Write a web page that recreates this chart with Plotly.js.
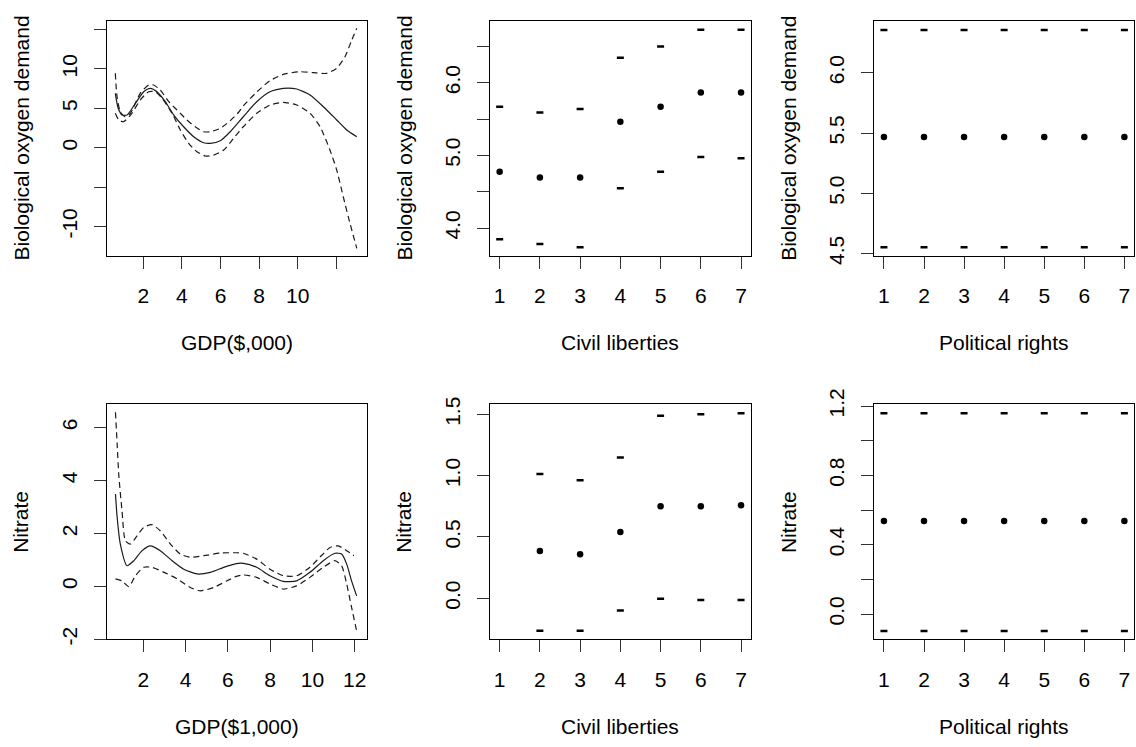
<!DOCTYPE html>
<html>
<head>
<meta charset="utf-8">
<script src="https://cdn.plot.ly/plotly-3.0.1.min.js"></script>
<style>html,body{margin:0;padding:0;background:#fff;}#chart{width:1136px;height:747px;}</style>
</head>
<body>
<div id="chart"></div>
<script>
// ---- Biological oxygen demand vs GDP($,000) ----
var bodGdpUpperX = [0.55,0.64,0.81,1.07,1.33,1.84,2.28,2.54,2.88,3.32,3.75,4.26,4.69,5.13,5.47,5.99,6.49,6.94,7.18,7.88,8.56,9.25,10.12,10.81,11.5,12.02,12.45,12.8,13.06];
var bodGdpUpperY = [9.44,6.47,4.57,3.93,4.37,6.9,7.96,7.96,7.32,5.84,4.78,3.52,2.66,2.03,2.03,2.46,3.4,4.5,5.3,7.07,8.5,9.3,9.64,9.52,9.44,10.08,11.55,13.67,15.15];
var bodGdpFitX = [0.55,0.7,0.9,1.16,1.59,2.02,2.36,2.71,3.14,3.58,4.09,4.61,5.13,5.47,5.99,6.49,7.18,7.88,8.56,9.25,9.95,10.64,11.33,12.02,12.54,13.06];
var bodGdpFitY = [6.9,5.0,4.15,4.15,5.63,7.1,7.54,7.1,5.84,4.15,2.66,1.4,0.63,0.56,0.89,2.0,3.93,5.84,7.1,7.54,7.45,6.69,5.2,3.52,2.25,1.4];
var bodGdpLowerX = [0.55,0.73,0.98,1.41,1.84,2.28,2.62,2.97,3.49,3.92,4.35,4.78,5.21,5.65,6.17,6.49,6.68,7.18,7.88,8.56,9.25,9.95,10.64,11.16,11.67,12.02,12.36,12.71,13.06];
var bodGdpLowerY = [4.37,3.52,3.3,4.37,6.05,7.1,7.1,6.27,4.37,2.25,0.56,-0.51,-1.05,-0.93,-0.29,0.6,1.2,2.66,4.37,5.42,5.76,5.42,4.37,2.66,-0.29,-2.83,-6.22,-9.6,-12.77];

// ---- Nitrate vs GDP($1,000) ----
var nitGdpUpperX = [0.68,0.76,0.84,0.99,1.15,1.39,1.7,2.02,2.41,2.8,3.28,3.75,4.22,4.86,5.64,6.4,6.73,7.36,7.99,8.62,9.25,9.88,10.35,10.83,11.22,11.62,11.96];
var nitGdpUpperY = [6.58,5.38,4.18,2.86,1.72,1.6,1.91,2.23,2.33,2.1,1.6,1.22,1.1,1.16,1.26,1.27,1.25,1.03,0.65,0.4,0.4,0.72,1.1,1.47,1.53,1.35,1.16];
var nitGdpFitX = [0.68,0.76,0.91,1.23,1.55,1.94,2.33,2.8,3.36,3.91,4.54,5.17,5.8,6.4,6.73,7.36,7.99,8.62,9.25,9.88,10.51,11.06,11.38,11.62,11.85,12.09];
var nitGdpFitY = [3.49,2.61,1.6,0.78,0.97,1.35,1.53,1.35,0.97,0.65,0.47,0.53,0.72,0.86,0.87,0.72,0.4,0.19,0.21,0.53,0.97,1.25,1.22,0.84,0.21,-0.36];
var nitGdpLowerX = [0.68,0.99,1.31,1.62,2.02,2.41,2.98,3.61,4.22,4.7,5.33,5.96,6.4,6.73,7.36,7.99,8.62,9.25,9.88,10.51,11.06,11.38,11.62,11.85,12.09];
var nitGdpLowerY = [0.28,0.21,-0.01,0.4,0.72,0.72,0.53,0.28,-0.04,-0.17,-0.04,0.21,0.38,0.43,0.34,0.09,-0.1,0.02,0.34,0.72,0.97,0.78,0.09,-0.79,-1.68];

// ---- Civil liberties / Political rights (levels 1..7) ----
var levels = [1,2,3,4,5,6,7];
var bodCivilFit   = [4.775,4.697,4.697,5.463,5.67,5.867,5.867];
var bodCivilUpper = [5.67,5.59,5.638,6.344,6.5,6.729,6.729];
var bodCivilLower = [3.844,3.78,3.734,4.546,4.775,4.977,4.959];
var nitCivilFit   = [null,0.386,0.359,0.541,0.75,0.75,0.758];
var nitCivilUpper = [null,1.014,0.962,1.149,1.489,1.5,1.508];
var nitCivilLower = [null,-0.266,-0.266,-0.1,-0.005,-0.014,-0.014];
var bodPolFit   = [5.467,5.467,5.467,5.467,5.467,5.467,5.467];
var bodPolUpper = [6.356,6.356,6.356,6.356,6.356,6.356,6.356];
var bodPolLower = [4.552,4.552,4.552,4.552,4.552,4.552,4.552];
var nitPolFit   = [0.5365,0.5365,0.5365,0.5365,0.5365,0.5365,0.5365];
var nitPolUpper = [1.158,1.158,1.158,1.158,1.158,1.158,1.158];
var nitPolLower = [-0.098,-0.098,-0.098,-0.098,-0.098,-0.098,-0.098];

// ---- tick labels ----
var tlYVals = [-10,-5,0,5,10,15], tlYText = ["-10","","0","5","10",""];
var tlXVals = [2,4,6,8,10,12], tlXText = ["2","4","6","8","10",""];
var blYVals = [-2,0,2,4,6], blYText = ["-2","0","2","4","6"];
var blXVals = [2,4,6,8,10,12], blXText = ["2","4","6","8","10","12"];
var tmYVals = [4,4.5,5,5.5,6,6.5], tmYText = ["4.0","","5.0","","6.0",""];
var bmYVals = [0,0.5,1,1.5], bmYText = ["0.0","0.5","1.0","1.5"];
var trYVals = [4.5,5,5.5,6], trYText = ["4.5","5.0","5.5","6.0"];
var brYVals = [0,0.2,0.4,0.6,0.8,1.0,1.2], brYText = ["0.0","","0.4","","0.8","","1.2"];
var lvlText = ["1","2","3","4","5","6","7"];

var xTitles = ["GDP($,000)","Civil liberties","Political rights","GDP($1,000)","Civil liberties","Political rights"];
var yTitles = ["Biological oxygen demand","Biological oxygen demand","Biological oxygen demand","Nitrate","Nitrate","Nitrate"];

var FONT = "Liberation Sans, Arial, sans-serif";
var FSIZE = 21;
var INK = "#1a1a1a";
var W = 1136, H = 747;

function lineTrace(x, y, ax, dashed) {
  return {x: x, y: y, xaxis: 'x' + ax, yaxis: 'y' + ax, type: 'scatter', mode: 'lines',
    line: {color: INK, width: 1.2, dash: dashed ? '6px,4px' : 'solid', shape: 'spline', smoothing: 0.6},
    hoverinfo: 'skip', showlegend: false};
}
function ptTrace(y, ax) {
  return {x: levels, y: y, xaxis: 'x' + ax, yaxis: 'y' + ax, type: 'scatter', mode: 'markers',
    marker: {symbol: 'circle', size: 6.5, color: '#000'}, showlegend: false};
}
function dashTrace(y, ax) {
  return {x: levels, y: y, xaxis: 'x' + ax, yaxis: 'y' + ax, type: 'scatter', mode: 'markers',
    marker: {symbol: 'line-ew', size: 5, line: {width: 2.5, color: '#000'}}, showlegend: false};
}

var data = [
  lineTrace(bodGdpFitX, bodGdpFitY, '', false),
  lineTrace(bodGdpUpperX, bodGdpUpperY, '', true),
  lineTrace(bodGdpLowerX, bodGdpLowerY, '', true),
  ptTrace(bodCivilFit, '2'), dashTrace(bodCivilUpper, '2'), dashTrace(bodCivilLower, '2'),
  ptTrace(bodPolFit, '3'), dashTrace(bodPolUpper, '3'), dashTrace(bodPolLower, '3'),
  lineTrace(nitGdpFitX, nitGdpFitY, '4', false),
  lineTrace(nitGdpUpperX, nitGdpUpperY, '4', true),
  lineTrace(nitGdpLowerX, nitGdpLowerY, '4', true),
  ptTrace(nitCivilFit, '5'), dashTrace(nitCivilUpper, '5'), dashTrace(nitCivilLower, '5'),
  ptTrace(nitPolFit, '6'), dashTrace(nitPolUpper, '6'), dashTrace(nitPolLower, '6')
];

// panel boxes in pixels [left, right, top, bottom]
var colPx = [[107, 367], [490, 750.7], [874.3, 1134]];
var rowPx = [[21, 256], [404.3, 639.3]];

function axisBase(isY) {
  return {showline: true, mirror: true, linecolor: '#000', linewidth: 1,
    ticks: 'outside', ticklen: 12, tickwidth: 1, tickcolor: '#333',
    showgrid: false, zeroline: false, tickmode: 'array', fixedrange: true,
    tickfont: {family: FONT, size: FSIZE, color: '#000'},
    tickangle: isY ? -90 : 0, ticklabelstandoff: 9};
}

var panels = [
  {xr: [0.12, 13.59], yr: [-13.74, 16.08], xv: tlXVals, xt: tlXText, yv: tlYVals, yt: tlYText},
  {xr: [0.76, 7.24], yr: [3.615, 6.85], xv: levels, xt: lvlText, yv: tmYVals, yt: tmYText},
  {xr: [0.76, 7.24], yr: [4.48, 6.43], xv: levels, xt: lvlText, yv: trYVals, yt: trYText},
  {xr: [0.28, 12.58], yr: [-2.0, 6.88], xv: blXVals, xt: blXText, yv: blYVals, yt: blYText},
  {xr: [0.76, 7.24], yr: [-0.335, 1.582], xv: levels, xt: lvlText, yv: bmYVals, yt: bmYText},
  {xr: [0.76, 7.24], yr: [-0.146, 1.21], xv: levels, xt: lvlText, yv: brYVals, yt: brYText}
];

var layout = {width: W, height: H, margin: {l: 0, r: 0, t: 0, b: 0},
  paper_bgcolor: '#fff', plot_bgcolor: '#fff', showlegend: false,
  font: {family: FONT, color: '#000'}, annotations: []};

panels.forEach(function (p, i) {
  var c = colPx[i % 3], r = rowPx[Math.floor(i / 3)];
  var sfx = i === 0 ? '' : String(i + 1);
  var xa = axisBase(false), ya = axisBase(true);
  xa.domain = [c[0] / W, c[1] / W]; xa.range = p.xr; xa.tickvals = p.xv; xa.ticktext = p.xt; xa.anchor = 'y' + sfx;
  ya.domain = [1 - r[1] / H, 1 - r[0] / H]; ya.range = p.yr; ya.tickvals = p.yv; ya.ticktext = p.yt; ya.anchor = 'x' + sfx;
  layout['xaxis' + sfx] = xa; layout['yaxis' + sfx] = ya;
  layout.annotations.push({text: xTitles[i], xref: 'paper', yref: 'paper', showarrow: false,
    x: (c[0] + c[1]) / 2 / W, y: 1 - (r[1] + 87) / H, xanchor: 'center', yanchor: 'middle',
    font: {family: FONT, size: FSIZE, color: '#000'}});
  layout.annotations.push({text: yTitles[i], xref: 'paper', yref: 'paper', showarrow: false, textangle: -90,
    x: (c[0] - 86) / W, y: 1 - (r[0] + r[1]) / 2 / H, xanchor: 'center', yanchor: 'middle',
    font: {family: FONT, size: FSIZE, color: '#000'}});
});

Plotly.newPlot('chart', data, layout, {staticPlot: true, displayModeBar: false});
</script>
</body>
</html>
